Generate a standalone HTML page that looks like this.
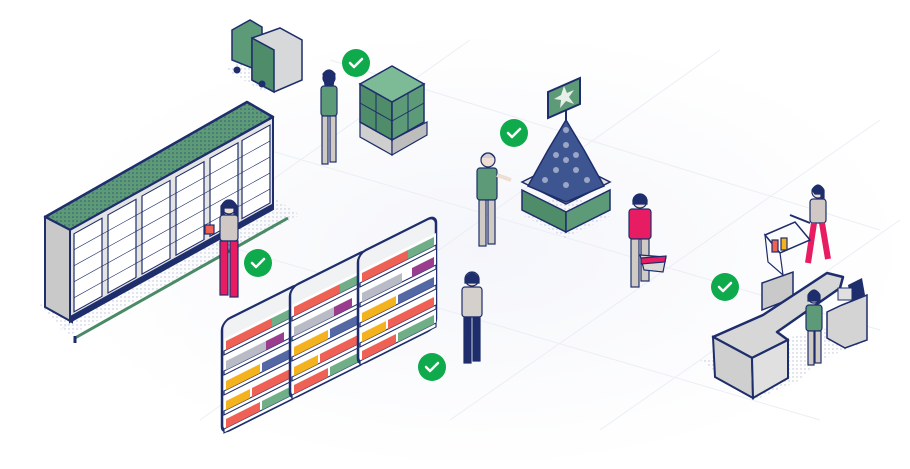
<!DOCTYPE html>
<html><head><meta charset="utf-8"><style>
html,body{margin:0;padding:0;background:#fff;width:910px;height:469px;overflow:hidden}
svg{display:block}
</style></head><body>
<svg width="910" height="469" viewBox="0 0 910 469" xmlns="http://www.w3.org/2000/svg">
<defs>
<pattern id="dots" width="4" height="4" patternUnits="userSpaceOnUse"><circle cx="1" cy="1" r="0.8" fill="#1e2d6b"/></pattern>
<pattern id="sh" width="4" height="4" patternUnits="userSpaceOnUse"><circle cx="1" cy="1" r="0.7" fill="#b8bfd6"/></pattern>
<radialGradient id="floor" cx="50%" cy="50%" r="50%"><stop offset="0" stop-color="#f5f6fb"/><stop offset="1" stop-color="#fff"/></radialGradient>
<g id="shelf">
<rect x="0" y="-8" width="78" height="112" rx="8" fill="#f1f2f4" stroke="#1e2d6b" stroke-width="2.5"/>
<rect x="2" y="10" width="76" height="94" fill="#fff"/>
</g>
</defs>
<ellipse cx="480" cy="250" rx="430" ry="220" fill="url(#floor)"/>
<g stroke="#eceef5" stroke-width="1" fill="none">
<line x1="70" y1="200" x2="820" y2="420"/><line x1="200" y1="130" x2="880" y2="330"/>
<line x1="330" y1="60" x2="880" y2="230"/><line x1="60" y1="330" x2="470" y2="40"/>
<line x1="200" y1="420" x2="720" y2="50"/><line x1="450" y1="420" x2="880" y2="120"/>
<line x1="600" y1="430" x2="900" y2="220"/>
</g>

<!-- Freezer -->
<polygon points="40,305 70,335 300,215 270,195" fill="url(#sh)"/>
<polygon points="45,217 247,102 273,117 70,230" fill="#5c9a78" stroke="#1e2d6b" stroke-width="2.5" stroke-linejoin="round"/>
<polygon points="45,217 247,102 273,117 70,230" fill="url(#dots)" opacity=".6"/>
<polygon points="45,217 70,230 72,322 45,307" fill="#c9c9c9" stroke="#1e2d6b" stroke-width="2"/>
<g transform="matrix(1,-0.555,0,1,70,230)">
<rect x="0" y="0" width="203" height="92" fill="#e4e4e4" stroke="#1e2d6b" stroke-width="2"/>
<g fill="#fff" stroke="#1e2d6b" stroke-width="1.2">
<rect x="4" y="6" width="28" height="78"/><rect x="38" y="6" width="28" height="78"/><rect x="72" y="6" width="28" height="78"/>
<rect x="106" y="6" width="28" height="78"/><rect x="140" y="6" width="28" height="78"/><rect x="172" y="6" width="28" height="78"/>
</g>
<g stroke="#1e2d6b" stroke-width=".7">
<line x1="4" y1="22" x2="200" y2="22"/><line x1="4" y1="38" x2="200" y2="38"/><line x1="4" y1="54" x2="200" y2="54"/><line x1="4" y1="70" x2="200" y2="70"/>
</g>
<rect x="0" y="86" width="203" height="6" fill="#1e2d6b"/>
</g>
<line x1="75" y1="338" x2="288" y2="218" stroke="#4b8a67" stroke-width="3"/>
<line x1="75" y1="336" x2="75" y2="343" stroke="#1e2d6b" stroke-width="3"/>

<!-- Truck -->
<polygon points="225,70 265,92 300,72 260,52" fill="url(#sh)"/>
<polygon points="232,30 250,20 262,27 262,72 232,60" fill="#5c9a78" stroke="#1e2d6b" stroke-width="1.5"/>
<polygon points="252,38 280,28 302,40 302,80 274,92 252,80" fill="#d6d8da" stroke="#1e2d6b" stroke-width="1.5"/>
<polygon points="252,38 274,50 274,92 252,80" fill="#4f8c6a" stroke="#1e2d6b" stroke-width="1.5"/>
<circle cx="237" cy="70" r="3.5" fill="#1e2d6b"/><circle cx="262" cy="84" r="3.5" fill="#1e2d6b"/>

<!-- Pallet -->
<polygon points="360,125 395,145 430,127 395,108" fill="url(#sh)"/>
<polygon points="360,122 392,140 392,155 360,137" fill="#cfcfcf" stroke="#1e2d6b" stroke-width="1.2"/>
<polygon points="392,140 427,122 427,135 392,155" fill="#bdbdbd" stroke="#1e2d6b" stroke-width="1.2"/>
<polygon points="360,84 392,102 392,140 360,122" fill="#4f8c6a" stroke="#1e2d6b" stroke-width="1.5"/>
<polygon points="392,102 424,84 424,122 392,140" fill="#5c9a78" stroke="#1e2d6b" stroke-width="1.5"/>
<polygon points="360,84 392,66 424,84 392,102" fill="#7dbb97" stroke="#1e2d6b" stroke-width="1.5"/>
<line x1="360" y1="103" x2="392" y2="121" stroke="#1e2d6b"/><line x1="392" y1="121" x2="424" y2="103" stroke="#1e2d6b"/>
<line x1="376" y1="93" x2="376" y2="131" stroke="#1e2d6b"/><line x1="408" y1="93" x2="408" y2="131" stroke="#1e2d6b"/>

<!-- Display stand -->
<polygon points="522,215 566,238 612,215 566,192" fill="url(#sh)"/>
<polygon points="522,190 566,212 566,232 522,210" fill="#4f8c6a" stroke="#1e2d6b" stroke-width="1.5"/>
<polygon points="566,212 610,190 610,210 566,232" fill="#5c9a78" stroke="#1e2d6b" stroke-width="1.5"/>
<polygon points="522,182 566,160 610,182 566,204" fill="#e0e0e0" stroke="#1e2d6b" stroke-width="1.5"/>
<polygon points="528,186 548,150 566,120 584,150 604,186 566,202" fill="#3d5591" stroke="#1e2d6b" stroke-width="1.5"/>
<g fill="#9aa6c4"><circle cx="545" cy="180" r="3"/><circle cx="556" cy="170" r="3"/><circle cx="566" cy="160" r="3"/><circle cx="566" cy="145" r="3"/><circle cx="576" cy="170" r="3"/><circle cx="587" cy="180" r="3"/><circle cx="566" cy="185" r="3"/><circle cx="556" cy="155" r="3"/><circle cx="576" cy="155" r="3"/><circle cx="566" cy="130" r="3"/></g>
<line x1="566" y1="120" x2="566" y2="110" stroke="#1e2d6b" stroke-width="2"/>
<polygon points="548,92 580,78 580,104 548,118" fill="#5c9a78" stroke="#1e2d6b" stroke-width="2"/>
<polygon points="564,86 567,93 574,90 569,97 574,104 566,101 560,108 561,100 554,99 561,95" fill="#e8efe9"/>

<!-- Shelves -->
<g transform="matrix(1,-0.5,0,1,222,330)">
<use href="#shelf"/>
<g stroke="#1e2d6b" stroke-width="1.2" fill="#fff">
<rect x="2" y="22" width="76" height="4"/><rect x="2" y="42" width="76" height="4"/><rect x="2" y="62" width="76" height="4"/><rect x="2" y="82" width="76" height="4"/><rect x="2" y="100" width="76" height="4"/>
</g>
<rect x="4" y="13" width="46" height="9" fill="#ef6055"/><rect x="50" y="13" width="26" height="9" fill="#6fae87"/>
<rect x="4" y="33" width="40" height="9" fill="#b9bcc6"/><rect x="44" y="33" width="18" height="9" fill="#9b3d8e"/>
<rect x="4" y="53" width="34" height="9" fill="#f3b21e"/><rect x="40" y="53" width="36" height="9" fill="#5368a5"/>
<rect x="4" y="73" width="24" height="9" fill="#f3b21e"/><rect x="30" y="73" width="46" height="9" fill="#ef6055"/>
<rect x="4" y="91" width="34" height="9" fill="#ef6055"/><rect x="40" y="91" width="36" height="9" fill="#6fae87"/>
</g>
<g transform="matrix(1,-0.5,0,1,290,296)">
<use href="#shelf"/>
<g stroke="#1e2d6b" stroke-width="1.2" fill="#fff">
<rect x="2" y="22" width="76" height="4"/><rect x="2" y="42" width="76" height="4"/><rect x="2" y="62" width="76" height="4"/><rect x="2" y="82" width="76" height="4"/><rect x="2" y="100" width="76" height="4"/>
</g>
<rect x="4" y="13" width="46" height="9" fill="#ef6055"/><rect x="50" y="13" width="26" height="9" fill="#6fae87"/>
<rect x="4" y="33" width="40" height="9" fill="#b9bcc6"/><rect x="44" y="33" width="18" height="9" fill="#9b3d8e"/>
<rect x="4" y="53" width="34" height="9" fill="#f3b21e"/><rect x="40" y="53" width="36" height="9" fill="#5368a5"/>
<rect x="4" y="73" width="24" height="9" fill="#f3b21e"/><rect x="30" y="73" width="46" height="9" fill="#ef6055"/>
<rect x="4" y="91" width="34" height="9" fill="#ef6055"/><rect x="40" y="91" width="36" height="9" fill="#6fae87"/>
</g>
<g transform="matrix(1,-0.5,0,1,358,262)">
<use href="#shelf"/>
<g stroke="#1e2d6b" stroke-width="1.2" fill="#fff">
<rect x="2" y="22" width="76" height="4"/><rect x="2" y="42" width="76" height="4"/><rect x="2" y="62" width="76" height="4"/><rect x="2" y="82" width="76" height="4"/><rect x="2" y="100" width="76" height="4"/>
</g>
<rect x="4" y="13" width="46" height="9" fill="#ef6055"/><rect x="50" y="13" width="26" height="9" fill="#6fae87"/>
<rect x="4" y="33" width="40" height="9" fill="#b9bcc6"/><rect x="54" y="33" width="22" height="9" fill="#9b3d8e"/>
<rect x="4" y="53" width="34" height="9" fill="#f3b21e"/><rect x="40" y="53" width="36" height="9" fill="#5368a5"/>
<rect x="4" y="73" width="24" height="9" fill="#f3b21e"/><rect x="30" y="73" width="46" height="9" fill="#ef6055"/>
<rect x="4" y="91" width="34" height="9" fill="#ef6055"/><rect x="40" y="91" width="36" height="9" fill="#6fae87"/>
</g>

<!-- Checkout -->
<polygon points="700,360 755,400 800,380 820,360 870,340 860,320" fill="url(#sh)"/>
<polygon points="762,283 793,272 793,298 762,310" fill="#c9c9c9" stroke="#1e2d6b" stroke-width="1.5"/>
<polygon points="827,312 842,305 867,295 867,340 845,348 827,338" fill="#d4d4d4" stroke="#1e2d6b" stroke-width="1.5"/>
<polygon points="713,337 763,315 827,273 843,277 840,288 777,332 788,340 752,358" fill="#d7d7d7" stroke="#1e2d6b" stroke-width="2.5" stroke-linejoin="round"/>
<polygon points="713,337 752,358 753,398 715,377" fill="#cfcfcf" stroke="#1e2d6b" stroke-width="2"/>
<polygon points="752,358 788,340 788,378 753,398" fill="#e0e0e0" stroke="#1e2d6b" stroke-width="2"/>
<polygon points="848,285 862,278 865,295 851,302" fill="#1e2d6b"/>
<rect x="838" y="288" width="14" height="12" fill="#e0e0e0" stroke="#1e2d6b"/>

<!-- People -->
<g stroke="#1e2d6b" stroke-width="1.2">
<circle cx="329" cy="78" r="6" fill="#f0ddd4"/><path d="M323,74 q6,-8 12,0 l-2,12 -8,-1z" fill="#1e2d6b"/>
<rect x="321" y="86" width="16" height="30" rx="3" fill="#5c9a78"/>
<rect x="322" y="116" width="6" height="48" fill="#d0cac5"/><rect x="330" y="116" width="6" height="46" fill="#d0cac5"/>
<circle cx="488" cy="160" r="7" fill="#f0ddd4"/><path d="M481,158 q7,-10 14,0" fill="#cfcfcf"/>
<rect x="477" y="168" width="20" height="32" rx="3" fill="#5c9a78"/>
<path d="M497,175 l14,5" stroke="#f0ddd4" stroke-width="4"/>
<rect x="479" y="200" width="7" height="46" fill="#d0cac5"/><rect x="488" y="200" width="7" height="44" fill="#d0cac5"/>
<circle cx="640" cy="201" r="7" fill="#f0ddd4"/><path d="M633,200 q7,-12 14,0 v4 h-14z" fill="#1e2d6b"/>
<rect x="629" y="209" width="22" height="30" rx="3" fill="#e81c62"/>
<rect x="631" y="239" width="8" height="48" fill="#d0cac5"/><rect x="641" y="239" width="8" height="42" fill="#d0cac5"/>
<polygon points="640,255 666,257 663,272 644,270" fill="#d9d9d9"/><path d="M641,258 l25,-2 -1,6 -24,2z" fill="#e81c62"/>
<circle cx="229" cy="207" r="7" fill="#f0ddd4"/><path d="M221,206 q8,-12 16,0 v10 h-3 v-8 h-10 v8 h-3z" fill="#1e2d6b"/>
<rect x="220" y="215" width="18" height="26" rx="3" fill="#cfc8c4"/>
<rect x="220" y="241" width="8" height="54" fill="#e81c62"/><rect x="230" y="241" width="8" height="56" fill="#e81c62"/>
<rect x="205" y="225" width="9" height="9" fill="#ef6055"/>
<circle cx="472" cy="279" r="7" fill="#f0ddd4"/><path d="M465,279 q7,-12 14,0 v4 h-14z" fill="#1e2d6b"/>
<rect x="462" y="287" width="20" height="30" rx="3" fill="#d6d0cc"/>
<rect x="464" y="317" width="7" height="46" fill="#1e2d6b"/><rect x="473" y="317" width="7" height="44" fill="#1e2d6b"/>
<circle cx="818" cy="192" r="6" fill="#f0ddd4"/><path d="M812,190 q6,-10 12,0 v12 h-3 v-8 h-6z" fill="#1e2d6b"/>
<rect x="810" y="199" width="16" height="24" rx="3" fill="#cfc8c4"/>
<path d="M814,223 l-6,40 M822,223 l6,36" stroke="#e81c62" stroke-width="6" fill="none"/>
<polygon points="765,235 795,222 810,240 780,253" fill="none" stroke="#1e2d6b" stroke-width="1.5"/>
<polygon points="765,235 780,253 783,275 768,262" fill="none"/>
<rect x="772" y="240" width="6" height="12" fill="#ef6055"/><rect x="781" y="238" width="6" height="12" fill="#f3b21e"/>
<line x1="790" y1="215" x2="810" y2="223" stroke-width="2"/>
<circle cx="814" cy="297" r="6" fill="#f0ddd4"/><path d="M808,295 q6,-10 12,0 v6 h-12z" fill="#1e2d6b"/>
<rect x="806" y="305" width="16" height="26" rx="3" fill="#5c9a78"/>
<rect x="808" y="331" width="6" height="34" fill="#d0cac5"/><rect x="815" y="331" width="6" height="32" fill="#d0cac5"/>
</g>

<!-- Check marks -->
<g fill="#0eaa4b">
<circle cx="356" cy="63" r="14"/><circle cx="514" cy="133" r="14"/><circle cx="258" cy="263" r="14"/><circle cx="432" cy="367" r="14"/><circle cx="725" cy="287" r="14"/>
</g>
<g fill="none" stroke="#fff" stroke-width="2.5" stroke-linecap="round" stroke-linejoin="round">
<path d="M350,63 l4,4 8,-8"/><path d="M508,133 l4,4 8,-8"/><path d="M252,263 l4,4 8,-8"/><path d="M426,367 l4,4 8,-8"/><path d="M719,287 l4,4 8,-8"/>
</g>
</svg>
</body></html>
